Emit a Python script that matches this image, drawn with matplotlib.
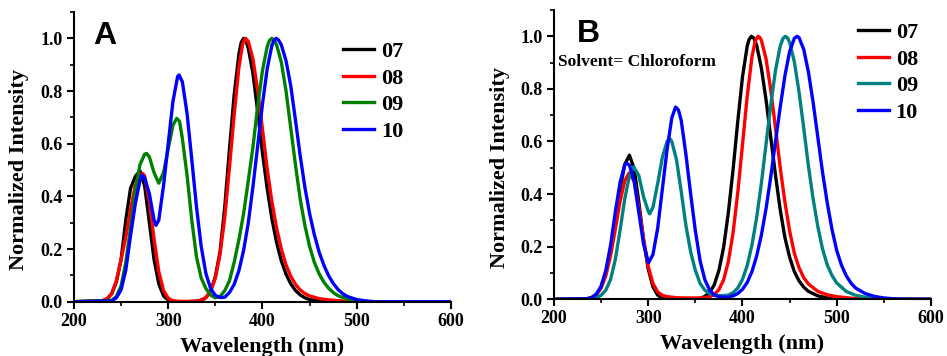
import matplotlib
matplotlib.use('Agg')
import matplotlib.pyplot as plt
from matplotlib.ticker import MultipleLocator

plt.rcParams['font.family'] = 'Liberation Serif'
plt.rcParams['font.weight'] = 'bold'

# ---- panel A ----
a07_wl = [200, 230, 235, 240, 245, 250, 255, 260, 265, 270, 275, 280, 285, 290, 295, 300, 305, 310, 320, 330, 335, 340, 345, 350, 355, 360, 365, 370, 375, 377.5, 380, 382.5, 385, 390, 395, 400, 405, 410, 415, 420, 425, 430, 435, 440, 445, 450, 460, 470, 600]
a07 = [0, 0.003, 0.01, 0.03, 0.075, 0.16, 0.31, 0.43, 0.475, 0.497, 0.44, 0.30, 0.16, 0.068, 0.022, 0.006, 0.001, 0, 0, 0.002, 0.006, 0.015, 0.04, 0.095, 0.19, 0.36, 0.58, 0.786, 0.94, 0.985, 1.0, 0.99, 0.962, 0.865, 0.72, 0.565, 0.43, 0.315, 0.225, 0.155, 0.105, 0.068, 0.043, 0.026, 0.015, 0.008, 0.003, 0, 0]

a08_wl = [200, 230, 235, 240, 245, 250, 255, 260, 265, 270, 273, 275, 280, 285, 290, 295, 300, 305, 310, 320, 330, 335, 340, 345, 350, 355, 360, 365, 370, 375, 379, 382, 385, 390, 395, 400, 405, 410, 415, 420, 425, 430, 435, 440, 445, 450, 460, 470, 480, 500, 600]
a08 = [0, 0.004, 0.012, 0.03, 0.08, 0.16, 0.245, 0.35, 0.44, 0.48, 0.487, 0.477, 0.381, 0.237, 0.115, 0.043, 0.013, 0.004, 0.002, 0.001, 0.002, 0.006, 0.016, 0.04, 0.09, 0.18, 0.32, 0.51, 0.71, 0.89, 0.979, 1.0, 0.988, 0.92, 0.80, 0.655, 0.505, 0.38, 0.28, 0.20, 0.14, 0.097, 0.066, 0.045, 0.031, 0.022, 0.012, 0.007, 0.004, 0, 0]

a09_wl = [200, 240, 245, 250, 255, 260, 265, 270, 275, 277, 280, 285, 290, 295, 300, 305, 309, 312, 315, 320, 325, 330, 335, 340, 345, 350, 355, 360, 365, 370, 375, 380, 385, 390, 395, 400, 405, 407.5, 410, 412.5, 415, 420, 425, 430, 435, 440, 445, 450, 455, 460, 465, 470, 475, 480, 490, 500, 510, 600]
a09 = [0, 0.005, 0.02, 0.06, 0.15, 0.28, 0.42, 0.52, 0.56, 0.563, 0.55, 0.49, 0.45, 0.49, 0.58, 0.67, 0.696, 0.685, 0.62, 0.48, 0.31, 0.17, 0.09, 0.05, 0.025, 0.015, 0.02, 0.042, 0.08, 0.15, 0.235, 0.335, 0.46, 0.59, 0.744, 0.877, 0.968, 0.992, 1.0, 0.993, 0.975, 0.91, 0.80, 0.66, 0.52, 0.39, 0.29, 0.21, 0.15, 0.107, 0.075, 0.052, 0.035, 0.023, 0.01, 0.004, 0, 0]

a10_wl = [200, 240, 245, 250, 255, 260, 265, 270, 272, 275, 280, 285, 287, 290, 295, 300, 305, 310, 311.5, 315, 320, 325, 330, 335, 340, 345, 350, 355, 360, 365, 370, 375, 380, 385, 390, 395, 400, 405, 410, 412, 414.5, 417, 420, 425, 430, 435, 440, 445, 450, 455, 460, 465, 470, 475, 480, 485, 490, 500, 510, 520, 600]
a10 = [0, 0.003, 0.015, 0.045, 0.12, 0.25, 0.37, 0.46, 0.481, 0.47, 0.41, 0.31, 0.29, 0.31, 0.44, 0.60, 0.76, 0.855, 0.861, 0.835, 0.715, 0.54, 0.36, 0.21, 0.107, 0.05, 0.024, 0.016, 0.017, 0.035, 0.066, 0.118, 0.195, 0.30, 0.44, 0.594, 0.75, 0.884, 0.973, 0.991, 1.0, 0.994, 0.975, 0.915, 0.82, 0.69, 0.555, 0.435, 0.335, 0.255, 0.19, 0.14, 0.10, 0.07, 0.047, 0.031, 0.02, 0.008, 0.003, 0, 0]

# ---- panel B (chloroform) ----
b07_wl = [200, 235, 240, 245, 250, 255, 260, 265, 270, 275, 280, 285, 290, 295, 300, 305, 310, 315, 320, 350, 355, 360, 365, 370, 375, 380, 385, 390, 395, 400, 405, 407, 409.5, 412, 415, 420, 425, 430, 435, 440, 445, 450, 455, 460, 465, 470, 480, 490, 500, 600]
b07 = [0, 0.002, 0.007, 0.019, 0.047, 0.099, 0.183, 0.296, 0.417, 0.512, 0.548, 0.497, 0.37, 0.226, 0.115, 0.047, 0.016, 0.004, 0.001, 0.001, 0.004, 0.0105, 0.025, 0.055, 0.11, 0.198, 0.33, 0.493, 0.677, 0.846, 0.963, 0.988, 1.0, 0.993, 0.966, 0.88, 0.758, 0.615, 0.472, 0.341, 0.235, 0.16, 0.105, 0.07, 0.046, 0.03, 0.013, 0.005, 0, 0]

b08_wl = [200, 235, 240, 245, 250, 255, 260, 265, 270, 275, 279.5, 285, 290, 295, 300, 305, 310, 315, 320, 330, 340, 350, 355, 360, 365, 370, 375, 380, 385, 390, 395, 400, 405, 410, 413.5, 416.5, 418.5, 420, 425, 430, 435, 440, 445, 450, 455, 460, 465, 470, 480, 490, 500, 510, 520, 540, 600]
b08 = [0, 0.002, 0.006, 0.017, 0.042, 0.09, 0.165, 0.265, 0.37, 0.45, 0.48, 0.45, 0.35, 0.23, 0.125, 0.06, 0.028, 0.015, 0.01, 0.006, 0.005, 0.005, 0.005, 0.006, 0.01, 0.018, 0.037, 0.074, 0.144, 0.253, 0.406, 0.588, 0.772, 0.921, 0.982, 1.0, 0.995, 0.985, 0.914, 0.796, 0.652, 0.501, 0.37, 0.26, 0.175, 0.12, 0.082, 0.058, 0.03, 0.017, 0.01, 0.006, 0.003, 0.001, 0]

b09_wl = [200, 240, 245, 250, 255, 260, 265, 270, 275, 280, 284.5, 290, 295, 300, 301.5, 305, 310, 315, 320, 322.8, 325, 330, 335, 340, 345, 350, 355, 360, 365, 370, 375, 380, 385, 390, 395, 400, 405, 410, 415, 420, 425, 430, 435, 440, 443, 445.5, 448, 450, 455, 460, 465, 470, 475, 480, 485, 490, 495, 500, 510, 520, 530, 540, 550, 560, 600]
b09 = [0, 0.002, 0.006, 0.015, 0.035, 0.075, 0.15, 0.26, 0.38, 0.47, 0.504, 0.47, 0.39, 0.335, 0.325, 0.35, 0.44, 0.54, 0.60, 0.611, 0.60, 0.53, 0.41, 0.28, 0.18, 0.11, 0.06, 0.035, 0.022, 0.017, 0.014, 0.014, 0.016, 0.025, 0.043, 0.076, 0.128, 0.206, 0.31, 0.44, 0.59, 0.74, 0.87, 0.963, 0.992, 1.0, 0.993, 0.977, 0.903, 0.788, 0.65, 0.505, 0.38, 0.275, 0.19, 0.13, 0.09, 0.062, 0.03, 0.015, 0.008, 0.004, 0.002, 0.001, 0]

b10_wl = [200, 235, 240, 245, 250, 255, 260, 265, 270, 275, 277, 280, 285, 290, 295, 300.3, 305, 310, 315, 320, 325, 329, 332, 335, 340, 345, 350, 355, 360, 365, 370, 375, 380, 385, 390, 395, 400, 405, 410, 415, 420, 425, 430, 435, 440, 445, 450, 455, 457.8, 460, 465, 470, 475, 480, 485, 490, 495, 500, 505, 510, 515, 520, 530, 540, 550, 560, 570, 600]
b10 = [0, 0.002, 0.006, 0.02, 0.05, 0.11, 0.205, 0.33, 0.443, 0.51, 0.518, 0.51, 0.45, 0.33, 0.21, 0.139, 0.17, 0.27, 0.42, 0.57, 0.69, 0.731, 0.72, 0.68, 0.55, 0.40, 0.26, 0.147, 0.075, 0.036, 0.016, 0.01, 0.008, 0.009, 0.013, 0.022, 0.038, 0.064, 0.105, 0.164, 0.244, 0.345, 0.466, 0.60, 0.73, 0.85, 0.942, 0.992, 1.0, 0.995, 0.95, 0.863, 0.747, 0.614, 0.481, 0.365, 0.265, 0.185, 0.13, 0.09, 0.062, 0.043, 0.022, 0.011, 0.005, 0.002, 0, 0]

labels = ['07', '08', '09', '10']
colors_a = ['black', '#ff0000', '#008000', '#0000ff']
colors_b = ['black', '#ff0000', '#008080', '#0000ff']

fig = plt.figure(figsize=(9.47, 3.56), dpi=100)
axA = fig.add_axes([0.0781, 0.1525, 0.3981, 0.8138])
axB = fig.add_axes([0.5850, 0.1593, 0.3981, 0.8126])

def style(ax):
    ax.set_xlim(200, 600)
    ax.set_ylim(0, 1.1)
    for s in ['top', 'right']:
        ax.spines[s].set_visible(False)
    for s in ['left', 'bottom']:
        ax.spines[s].set_linewidth(1.5)
    ax.xaxis.set_major_locator(MultipleLocator(100))
    ax.xaxis.set_minor_locator(MultipleLocator(50))
    ax.yaxis.set_major_locator(MultipleLocator(0.2))
    ax.yaxis.set_minor_locator(MultipleLocator(0.1))
    ax.yaxis.set_major_formatter(plt.FormatStrFormatter('%.1f'))
    ax.tick_params(which='major', direction='out', length=5, width=1.5, labelsize=13, pad=3)
    ax.tick_params(which='minor', direction='out', length=3, width=1.2)
    ax.set_xlabel('Wavelength (nm)', fontsize=16, fontweight='bold', labelpad=5)
    ax.set_ylabel('Normalized Intensity', fontsize=16, fontweight='bold')
    ax.yaxis.set_label_coords(-0.118, 0.455)
    ax.patch.set_alpha(0)

data_a = [(a07_wl, a07), (a08_wl, a08), (a09_wl, a09), (a10_wl, a10)]
data_b = [(b07_wl, b07), (b08_wl, b08), (b09_wl, b09), (b10_wl, b10)]

for (x, y), c, l in zip(data_a, colors_a, labels):
    axA.plot(x, y, color=c, lw=2.4, label=l)
for (x, y), c, l in zip(data_b, colors_b, labels):
    axB.plot(x, y, color=c, lw=2.4, label=l)

style(axA)
style(axB)

legA = axA.legend(loc='upper left', bbox_to_anchor=(0.714, 0.898), frameon=False,
                  borderpad=0, borderaxespad=0, handlelength=1.4, handletextpad=0.3,
                  labelspacing=0.27, prop={'size': 16, 'weight': 'bold'})
legB = axB.legend(loc='upper left', bbox_to_anchor=(0.806, 0.957), frameon=False,
                  borderpad=0, borderaxespad=0, handlelength=1.4, handletextpad=0.3,
                  labelspacing=0.27, prop={'size': 16, 'weight': 'bold'})
for leg in (legA, legB):
    for h in leg.get_lines():
        h.set_linewidth(2.4)

axA.text(220, 0.98, 'A', family='Liberation Sans', fontweight='bold', fontsize=23, va='baseline')
axB.text(224, 0.977, 'B', family='Liberation Sans', fontweight='bold', fontsize=23, va='baseline')
axB.text(204, 0.902, 'Solvent= Chloroform', fontsize=12.5, fontweight='bold', va='center')

fig.savefig('out.png', dpi=100)
